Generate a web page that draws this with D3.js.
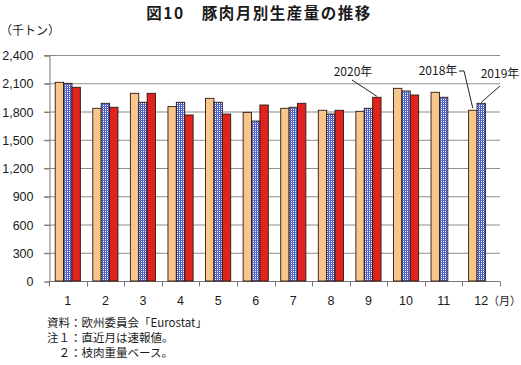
<!DOCTYPE html>
<html><head><meta charset="utf-8">
<script src="https://cdn.jsdelivr.net/npm/d3@7"></script>
<style>
body{margin:0;background:#fff;}
svg{display:block;}
text{font-family:"Liberation Sans","Noto Sans CJK JP",sans-serif;fill:#1a1a1a;}
.jp{font-family:"Noto Sans CJK JP",sans-serif;}
</style></head>
<body>
<svg id="chart" width="521" height="365"></svg>
<script>
const months = ["1","2","3","4","5","6","7","8","9","10","11","12"];
const seriesNames = ["2018年","2019年","2020年"];
const v2018 = [2110,1834,1993,1852,1940,1791,1834,1813,1802,2046,2004,1813];
const v2019 = [2099,1887,1898,1898,1898,1699,1845,1773,1834,2018,1951,1887];
const v2020 = [2057,1845,1993,1763,1773,1869,1887,1813,1951,1975,null,null];
const yTicks = [0,300,600,900,1200,1500,1800,2100,2400];
const notes = ["資料：欧州委員会「Eurostat」","注１：直近月は速報値。","　２：枝肉重量ベース。"];

const svg = d3.select("#chart");
const mLeft = 49, mRight = 500, mTop = 55, mBottom = 281;

const x = d3.scaleBand().domain(months).range([mLeft, mRight]).paddingInner(0).paddingOuter(0);
const x1 = d3.scaleBand().domain(seriesNames).range([0, x.bandwidth()]).paddingInner(0).paddingOuter(0.74);
const y = d3.scaleLinear().domain([0, 2400]).range([mBottom, mTop]);

const defs = svg.append("defs");
const pat = defs.append("pattern").attr("id","grid").attr("patternUnits","userSpaceOnUse")
  .attr("width",2).attr("height",2);
pat.append("rect").attr("width",2).attr("height",2).attr("fill","#ffffff");
pat.append("rect").attr("x",0).attr("y",0).attr("width",1).attr("height",2).attr("fill","#3c4fc4");
pat.append("rect").attr("x",0).attr("y",0).attr("width",2).attr("height",1).attr("fill","#5a6cd0");

// gridlines
svg.append("g").selectAll("line").data(yTicks.filter(d=>d>0)).join("line")
  .attr("x1", mLeft-5).attr("x2", mRight).attr("y1", d=>y(d)+0.5).attr("y2", d=>y(d)+0.5)
  .attr("stroke","#8c8c8c").attr("stroke-width",1);

// y axis
const yAxis = d3.axisLeft(y).tickValues(yTicks).tickFormat(d3.format(",")).tickSize(5).tickPadding(11);
const gy = svg.append("g").attr("transform",`translate(${mLeft+0.5},0.5)`).call(yAxis);
gy.select(".domain").attr("stroke","#777");
gy.selectAll(".tick line").attr("stroke","#777");
gy.selectAll("text").attr("font-size",12.5).style("font-family","Liberation Sans, sans-serif").attr("fill","#1a1a1a");

// x axis
const gx = svg.append("g").attr("transform",`translate(0,${mBottom+0.5})`);
gx.append("line").attr("x1",mLeft).attr("x2",mRight).attr("stroke","#777");
const bounds = months.map(m=>x(m)).concat([mRight]);
gx.selectAll("line.t").data(bounds).join("line").attr("class","t")
  .attr("x1",d=>Math.round(d)+0.5).attr("x2",d=>Math.round(d)+0.5).attr("y1",0).attr("y2",5).attr("stroke","#777");
gx.selectAll("text").data(months).join("text")
  .attr("x", d=>x(d)+x.bandwidth()/2).attr("y", 23.5).attr("text-anchor","middle")
  .attr("font-size",12.5).text(d=>d);
svg.append("text").attr("class","jp").attr("x",521).attr("y",mBottom+23.5).attr("text-anchor","end").attr("font-size",11).text("（月）");

// bars
const data = [v2018, v2019, v2020];
const fills = ["#f8c68a","url(#grid)","#e0231c"];
data.forEach((vals, si) => {
  svg.append("g").selectAll("rect").data(months.map((m,i)=>({m, v: vals[i]})).filter(d=>d.v!=null)).join("rect")
    .attr("x", d=>x(d.m)+x1(seriesNames[si]))
    .attr("y", d=>y(d.v))
    .attr("width", x1.bandwidth())
    .attr("height", d=>y(0)-y(d.v))
    .attr("fill", fills[si])
    .attr("stroke","#2a1a10").attr("stroke-width",0.9);
});

// annotations
const ann = svg.append("g");
const bx = (si, mi) => x(months[mi]) + x1(seriesNames[si]) + x1.bandwidth()/2;
// 2020
ann.append("text").attr("class","jp").attr("x",353).attr("y",76).attr("text-anchor","middle").attr("font-size",12).text("2020年");
ann.append("line").attr("x1",352).attr("y1",80).attr("x2",bx(2,8)).attr("y2",y(v2020[8])-1).attr("stroke","#222");
// 2018
ann.append("text").attr("class","jp").attr("x",438).attr("y",75).attr("text-anchor","middle").attr("font-size",12).text("2018年");
ann.append("polyline").attr("points",`459,71 464,71 ${bx(0,11)},${y(v2018[11])-2}`).attr("fill","none").attr("stroke","#222");
// 2019
ann.append("text").attr("class","jp").attr("x",500).attr("y",78).attr("text-anchor","middle").attr("font-size",12).text("2019年");
ann.append("line").attr("x1",500).attr("y1",86).attr("x2",bx(1,11)).attr("y2",y(v2019[11])-1).attr("stroke","#222");

// title and unit
svg.append("text").attr("class","jp").attr("x",259).attr("y",18.5).attr("text-anchor","middle")
  .attr("font-size",15.5).attr("font-weight","bold").attr("letter-spacing",1.5).text("図10　豚肉月別生産量の推移");
svg.append("text").attr("class","jp").attr("x",0).attr("y",35).attr("font-size",12).text("（千トン）");

// notes
svg.append("g").selectAll("text").data(notes).join("text").attr("class","jp")
  .attr("x",47).attr("y",(d,i)=>327+i*15).attr("font-size",11.5).text(d=>d);
</script>
</body></html>
